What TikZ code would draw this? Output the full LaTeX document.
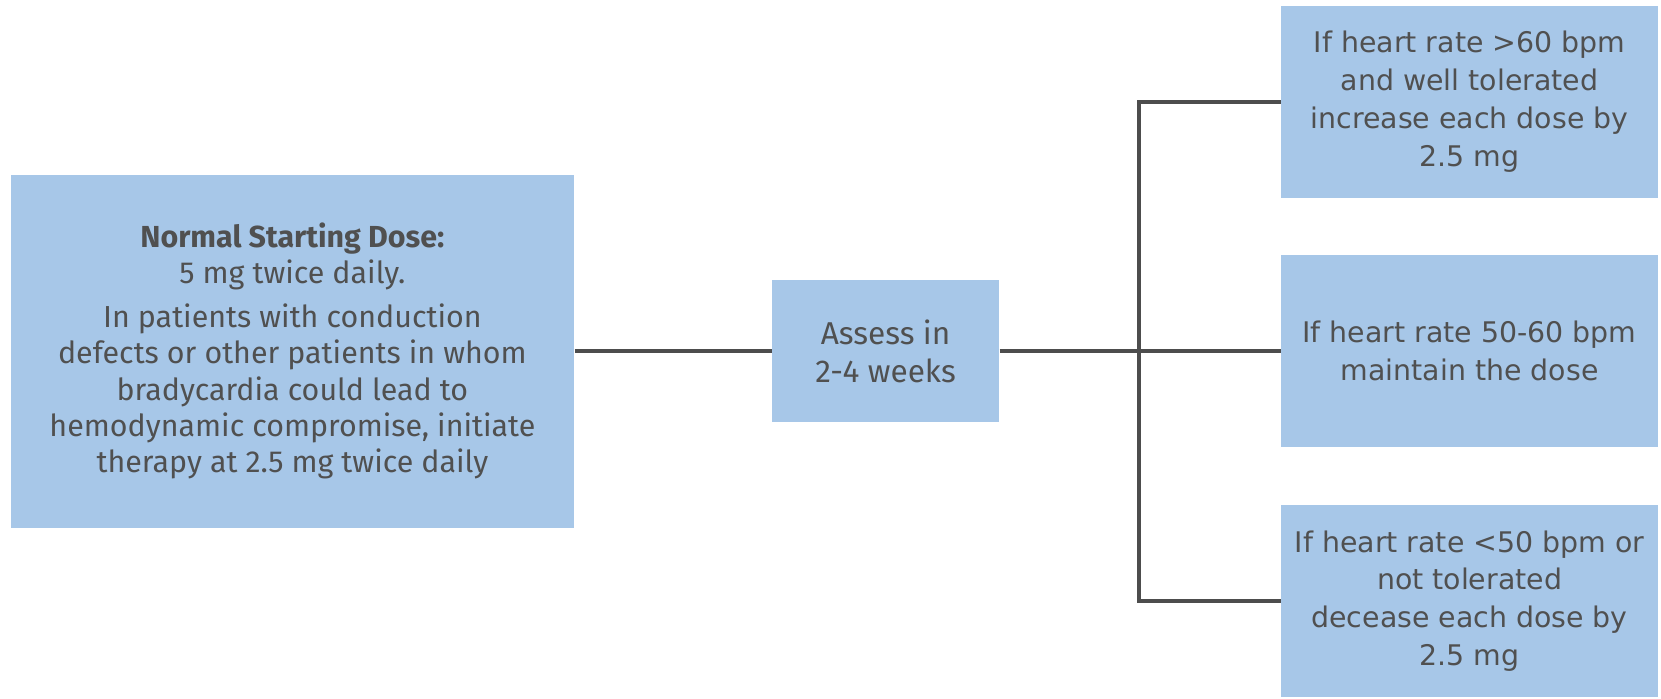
\documentclass[tikz,border=0pt]{standalone}
\usepackage{fontspec}
\setmainfont{Fira Sans}
\newfontfamily\widefont{DejaVu Sans}
\usetikzlibrary{positioning}
\definecolor{boxblue}{HTML}{A7C7E8}
\definecolor{linegray}{HTML}{4D4D4D}
\definecolor{textgray}{HTML}{505050}

\begin{document}
\begin{tikzpicture}[x=1pt, y=1pt,
        box/.style={fill=boxblue, text=textgray, align=center, inner sep=0pt,
            font=\fontsize{15.2}{18.2}\selectfont},
        stepbox/.style={box, minimum width=188.5, minimum height=96,
            font=\widefont\fontsize{14.2}{18.9}\selectfont},
        link/.style={draw=linegray, line width=2pt}]
        \useasboundingbox (0,0) rectangle (830.5,349);

        % Starting dose
        \node[box, minimum width=281.7, minimum height=176.3] (start) at (146.2,173.4)
            {{\bfseries Normal Starting Dose:}\\5 mg twice daily.\\[3.5pt]
             In patients with conduction\\defects or other patients in whom\\
             bradycardia could lead to\\hemodynamic compromise, initiate\\
             therapy at 2.5 mg twice daily};

        % Assessment
        \node[box, minimum width=113.5, minimum height=71,
            font=\fontsize{15.8}{19}\selectfont] (assess) at (442.8,173.4)
            {Assess in\\2-4 weeks};

        % Three outcomes
        \node[stepbox] (high) at (734.8,298.2)
            {If heart rate >60 bpm\\and well tolerated\\increase each dose by\\2.5 mg};
        \node[stepbox] (keep) at (734.8,173.4)
            {If heart rate 50-60 bpm\\maintain the dose};
        \node[stepbox] (low) at (734.8,48.5)
            {If heart rate <50 bpm or\\not tolerated\\decease each dose by\\2.5 mg};

        % Connectors
        \coordinate (split) at (569.5,173.4);
        \draw[link] (start) -- (assess);
        \draw[link] (assess) -- (keep);
        \draw[link] (high.west) -| (split) |- (low.west);

\end{tikzpicture}
\end{document}
